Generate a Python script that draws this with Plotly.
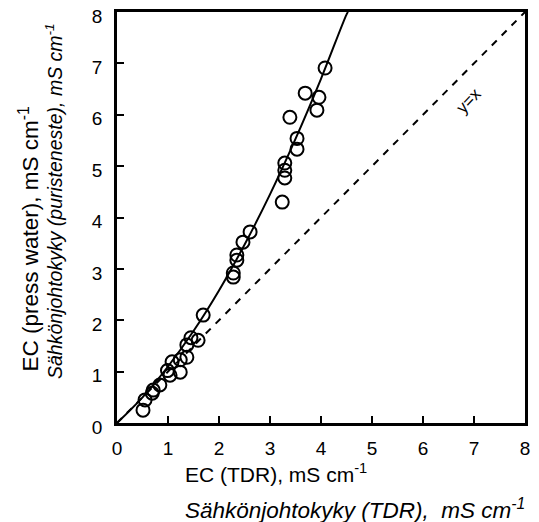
import plotly.graph_objects as go

# Measured points (EC TDR vs EC press water), mS/cm
tdr = [4.08, 3.69, 3.96, 3.92, 3.39, 3.53, 3.53, 3.29, 3.29, 3.29, 3.24,
       2.61, 2.47, 2.35, 2.35, 2.28, 2.28, 1.69, 1.59, 1.45, 1.37, 1.37,
       1.24, 1.24, 1.08, 1.04, 0.99, 0.84, 0.69, 0.71, 0.55, 0.51]
press = [6.91, 6.42, 6.34, 6.09, 5.95, 5.54, 5.33, 5.06, 4.92, 4.77, 4.30,
         3.72, 3.52, 3.27, 3.17, 2.92, 2.84, 2.10, 1.61, 1.66, 1.52, 1.28,
         1.23, 0.99, 1.19, 0.93, 1.02, 0.74, 0.58, 0.64, 0.45, 0.25]

# Fitted curve
curve_x = [0.0, 0.5, 1.0, 1.5, 2.0, 2.5, 3.0, 3.5, 4.0, 4.5, 4.53]
curve_y = [0.0, 0.50, 1.10, 1.79, 2.58, 3.47, 4.45, 5.53, 6.70, 7.95, 8.0]

# 1:1 line
ref_x = [0, 8]
ref_y = [0, 8]

ticks = [0, 1, 2, 3, 4, 5, 6, 7, 8]

FONT = "Liberation Sans, Arial, Helvetica, sans-serif"

fig = go.Figure()
fig.add_trace(go.Scatter(x=ref_x, y=ref_y, mode="lines",
                         line=dict(color="black", width=2, dash="7px,7px"),
                         hoverinfo="skip", showlegend=False))
fig.add_trace(go.Scatter(x=curve_x, y=curve_y, mode="lines",
                         line=dict(color="black", width=2, shape="spline"),
                         showlegend=False))
fig.add_trace(go.Scatter(x=tdr, y=press, mode="markers",
                         marker=dict(symbol="circle-open", size=13,
                                     color="black", line=dict(width=2)),
                         showlegend=False))

axis_common = dict(range=[0, 8], tickvals=ticks, showgrid=False, zeroline=False,
                   showline=True, linecolor="black", linewidth=2.5, mirror=True,
                   ticks="inside", ticklen=7, tickwidth=1.5, tickcolor="black",
                   automargin=False, ticklabeloverflow="allow",
                   tickfont=dict(size=19, color="black", family=FONT))

fig.update_xaxes(**axis_common, ticklabelstandoff=6)
fig.update_yaxes(**axis_common, ticklabelstandoff=8, ticklabelshift=4)

fig.add_annotation(x=6.9, y=6.28, xref="x", yref="y", text="y=x",
                   showarrow=False, textangle=-47,
                   font=dict(size=17, color="black", family=FONT))

# x-axis titles
fig.add_annotation(x=(183 - 117) / 408, y=(423 - 473) / 411, xref="paper", yref="paper",
                   xanchor="left", yanchor="middle", showarrow=False,
                   text="EC (TDR), mS cm<sup>-1</sup>",
                   font=dict(size=21, color="black", family=FONT))
fig.add_annotation(x=(183 - 117) / 408, y=(423 - 509) / 411, xref="paper", yref="paper",
                   xanchor="left", yanchor="middle", showarrow=False,
                   text="<i>Sähkönjohtokyky (TDR),  mS cm<sup>-1</sup></i>",
                   font=dict(size=22.5, color="black", family=FONT))

# y-axis titles
fig.add_annotation(x=(28 - 117) / 408, y=(423 - 374) / 411, xref="paper", yref="paper",
                   xanchor="center", yanchor="bottom", showarrow=False, textangle=-90,
                   text="EC (press water), mS cm<sup>-1</sup>",
                   font=dict(size=22.5, color="black", family=FONT))
fig.add_annotation(x=(54 - 117) / 408, y=(423 - 381) / 411, xref="paper", yref="paper",
                   xanchor="center", yanchor="bottom", showarrow=False, textangle=-90,
                   text="<i>Sähkönjohtokyky (puristeneste), mS cm<sup>-1</sup></i>",
                   font=dict(size=19.5, color="black", family=FONT))

# the page body adds an 8px offset, so margins are compensated
fig.update_layout(width=539, height=522,
                  margin=dict(l=109, r=22, t=4, b=107, autoexpand=False),
                  paper_bgcolor="white", plot_bgcolor="white",
                  font=dict(family=FONT, color="black"))

fig.write_html("out.html")
